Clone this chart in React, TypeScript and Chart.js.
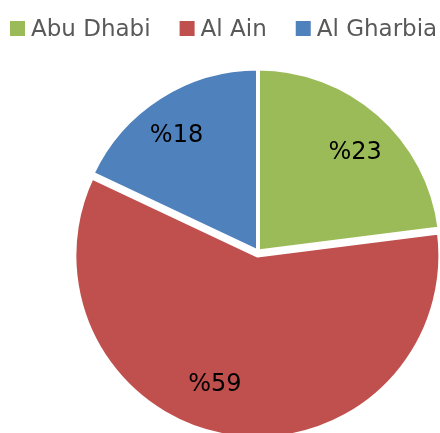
import { useEffect, useRef } from "react";
import { Chart, PieController, ArcElement } from "chart.js";

Chart.register(PieController, ArcElement);

// ---- data ----
const CATEGORIES = ["Abu Dhabi", "Al Ain", "Al Gharbia"];
const SHARES = [23, 59, 18];
const VALUE_LABELS = SHARES.map((v) => "%" + v);

// ---- styles ----
const COLORS = ["#9BBB59", "#C0504D", "#4F81BD"];
const EXPLODE = [0, 4, 0];
const LABEL_NUDGE = [
  [4, 4],
  [-20.5, -12.5],
  [-6, 1],
];
const LEGEND_FONT = '23px "DejaVu Sans"';
const LABEL_FONT = '24px "DejaVu Sans"';

const explodePlugin = {
  id: "explodeSlices",
  afterDatasetUpdate(chart: any, args: any) {
    const meta = args.meta;
    meta.data.forEach((el: any, i: number) => {
      const e = EXPLODE[i] || 0;
      if (!e) return;
      const mid = (el.startAngle + el.endAngle) / 2;
      el.x += Math.cos(mid) * e;
      el.y += Math.sin(mid) * e;
    });
  },
};

const labelPlugin = {
  id: "sliceLabels",
  afterDatasetsDraw(chart: any) {
    const ctx = chart.ctx;
    const meta = chart.getDatasetMeta(0);
    ctx.save();
    ctx.font = LABEL_FONT;
    ctx.fillStyle = "#000000";
    ctx.textAlign = "center";
    ctx.textBaseline = "alphabetic";
    meta.data.forEach((el: any, i: number) => {
      const mid = (el.startAngle + el.endAngle) / 2;
      const d = el.outerRadius * 0.77;
      const x = el.x + Math.cos(mid) * d + LABEL_NUDGE[i][0];
      const y = el.y + Math.sin(mid) * d + LABEL_NUDGE[i][1];
      ctx.fillText(VALUE_LABELS[i], x, y + 24 * 0.3645);
    });
    ctx.restore();
  },
};

const legendPlugin = {
  id: "topLegend",
  afterDraw(chart: any) {
    const ctx = chart.ctx;
    ctx.save();
    ctx.font = LEGEND_FONT;
    ctx.textAlign = "left";
    ctx.textBaseline = "alphabetic";
    let x = 10;
    CATEGORIES.forEach((c, i) => {
      ctx.fillStyle = COLORS[i];
      ctx.fillRect(x, 21, 15, 15);
      ctx.fillStyle = "#595959";
      ctx.fillText(c, x + 21, 36);
      x += 21 + ctx.measureText(c).width + 29;
    });
    ctx.restore();
  },
};

export default function App() {
  const ref = useRef<HTMLCanvasElement | null>(null);

  useEffect(() => {
    if (!ref.current) return;
    const chart = new Chart(ref.current, {
      type: "pie",
      data: {
        labels: CATEGORIES,
        datasets: [
          {
            data: SHARES,
            backgroundColor: COLORS,
            borderColor: "#FFFFFF",
            borderWidth: 4,
            radius: 183,
          } as any,
        ],
      },
      options: {
        responsive: false,
        devicePixelRatio: 1,
        animation: false,
        events: [],
        layout: { padding: { left: 76, right: 0, top: 70, bottom: 0 } },
        plugins: {
          legend: { display: false },
          tooltip: { enabled: false },
        } as any,
      },
      plugins: [explodePlugin, labelPlugin, legendPlugin],
    });
    return () => chart.destroy();
  }, []);

  return (
    <div
      style={{
        position: "fixed",
        left: 0,
        top: 0,
        width: 440,
        height: 433,
        background: "#FFFFFF",
      }}
    >
      <canvas ref={ref} width={440} height={433} />
    </div>
  );
}
